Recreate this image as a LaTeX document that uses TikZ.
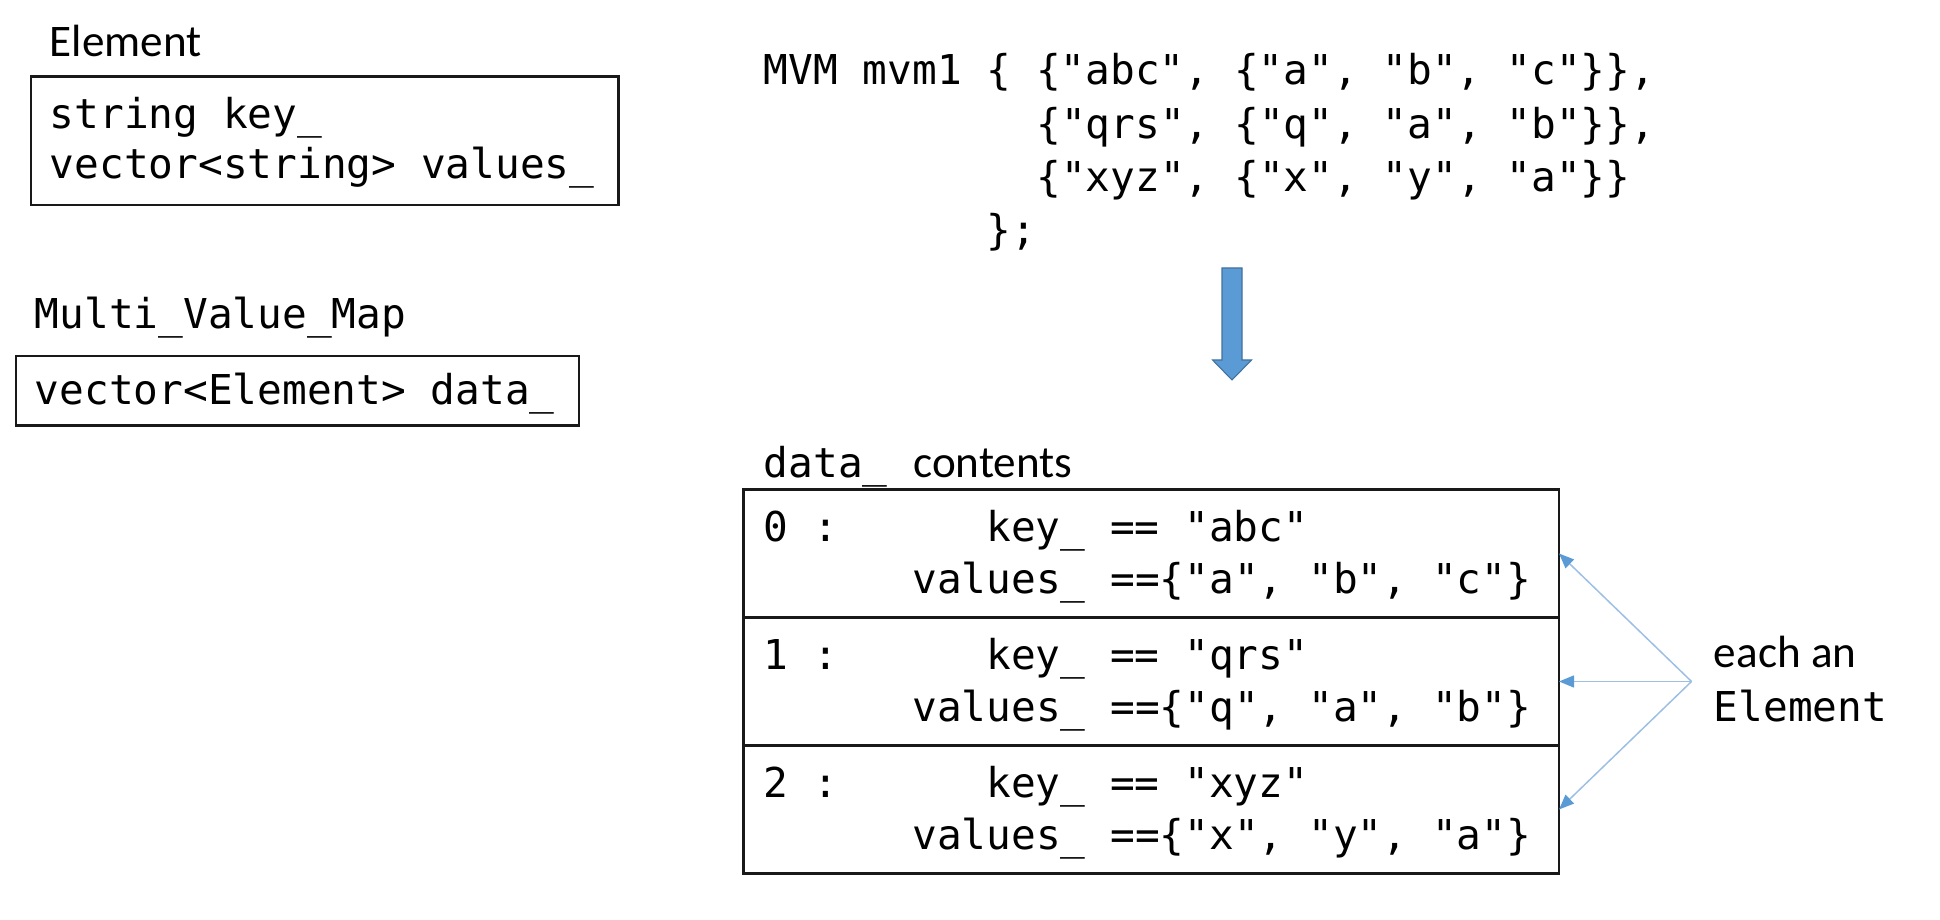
\documentclass[tikz,border=0pt]{standalone}
\usepackage{fontspec}
\newfontfamily\codefont{DejaVu Sans Mono}
\newfontfamily\labelfont{Carlito}
\usetikzlibrary{arrows.meta, positioning}
\definecolor{arrowblue}{HTML}{5B9BD5}
\definecolor{arrowedge}{HTML}{41719C}
\definecolor{linkblue}{HTML}{9DBFE4}
\frenchspacing

\begin{document}
\begin{tikzpicture}[
  box/.style={draw=black!90, line width=1.2pt, inner sep=0pt, outer sep=0pt},
  cell/.style={box, minimum width=16.31cm, minimum height=2.56cm},
  code/.style={anchor=base west, inner sep=0pt,
               font=\codefont\fontsize{23.4}{28}\selectfont},
  lbl/.style={anchor=base west, inner sep=0pt,
              font=\labelfont\fontsize{25.7}{30}\selectfont},
  link/.style={-{Triangle[length=0.3cm, width=0.24cm, color=arrowblue]},
               draw=linkblue, line width=0.85pt},
]
\useasboundingbox (0,0) rectangle (38.8,18.4);

\node[lbl] (elemtitle) at (0.99,17.26) {Element};
\node[box, minimum width=11.75cm, minimum height=2.57cm]
  (elembox) at (6.495,15.585) {};
\node[code] (keyline) at (0.99,15.83) {string key\_};
\node[code] (valline) at (0.99,14.82) {vector<string> values\_};

\node[code] (mvmtitle) at (0.69,11.82) {Multi\_Value\_Map};
\node[box, minimum width=11.26cm, minimum height=1.39cm]
  (mvmbox) at (5.95,10.585) {};
\node[code] (dataline) at (0.69,10.31) {vector<Element> data\_};

\node[code] (init1) at (15.27,16.70) {MVM mvm1 \{ \{"abc", \{"a", "b", "c"\}\},};
\node[code] (init2) at (20.72,15.63) {\{"qrs", \{"q", "a", "b"\}\},};
\node[code] (init3) at (20.72,14.57) {\{"xyz", \{"x", "y", "a"\}\}};
\node[code] (init4) at (19.72,13.50) {\};};

\fill[arrowblue, draw=arrowedge, line width=0.6pt]
  (24.44,13.04) -- (24.84,13.04) -- (24.84,11.20) -- (25.03,11.20)
  -- (24.64,10.80) -- (24.25,11.20) -- (24.44,11.20) -- cycle;

\node[code] (datatitle) at (15.27,8.855) {data\_};
\node[lbl] (contents) at (18.26,8.855) {contents};

\node[cell, anchor=north west] (r0) at (14.87,8.61) {};
\node[cell, below=0pt of r0] (r1) {};
\node[cell, below=0pt of r1] (r2) {};

\node[code] (idx0) at (15.27,7.56) {0 :};
\node[code] (key0) at (19.72,7.56) {key\_ == "abc"};
\node[code] (val0) at (18.24,6.52) {values\_ ==\{"a", "b", "c"\}};

\node[code] (idx1) at (15.27,5.00) {1 :};
\node[code] (key1) at (19.72,5.00) {key\_ == "qrs"};
\node[code] (val1) at (18.24,3.96) {values\_ ==\{"q", "a", "b"\}};

\node[code] (idx2) at (15.27,2.44) {2 :};
\node[code] (key2) at (19.72,2.44) {key\_ == "xyz"};
\node[code] (val2) at (18.24,1.40) {values\_ ==\{"x", "y", "a"\}};

\coordinate (fan) at (33.83,4.77);
\draw[link] (fan) -- (r0.east);
\draw[link] (fan) -- (r1.east);
\draw[link] (fan) -- (r2.east);

\node[lbl] (eachan) at (34.27,5.05) {each an};
\node[code] (elemnote) at (34.27,3.96) {Element};
\end{tikzpicture}
\end{document}
